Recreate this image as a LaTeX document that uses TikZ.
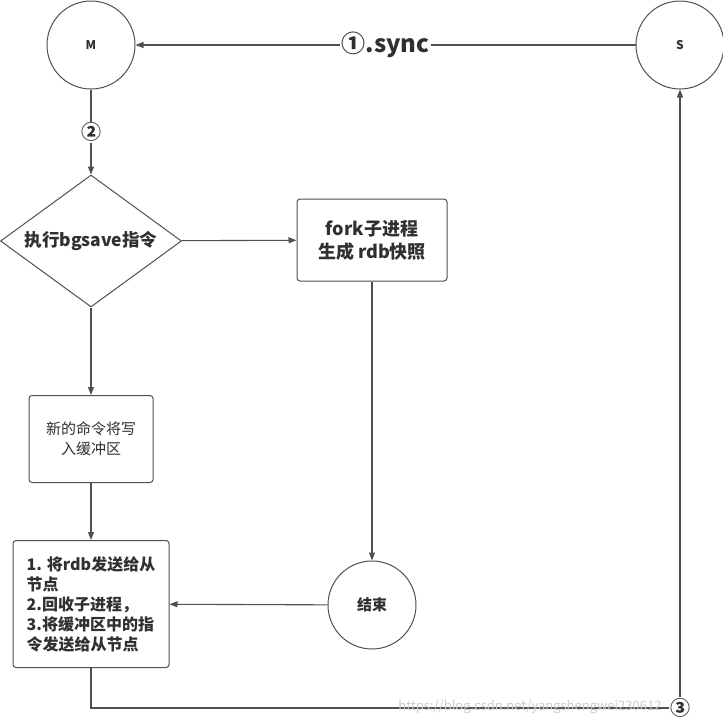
\documentclass[tikz,border=0pt]{standalone}
\usepackage{fontspec}
\setmainfont{Noto Sans CJK SC}
\usetikzlibrary{positioning,arrows.meta,shapes.geometric}
\definecolor{linegray}{HTML}{505050}
\definecolor{txtgray}{HTML}{303030}

\begin{document}
\begin{tikzpicture}[
  x=1pt,y=-1pt,
  >={Triangle[length=8pt,width=6pt]},
  conn/.style={draw=linegray,line width=1.1pt},
  state/.style={circle,draw=linegray,line width=1pt,fill=white,minimum size=88pt,inner sep=0pt,text=txtgray},
  stepbox/.style={rectangle,rounded corners=3pt,draw=linegray,line width=1pt,fill=white,text=txtgray,align=center},
  cond/.style={diamond,draw=linegray,line width=1pt,fill=white,shape aspect=1.37,inner sep=0pt,
    minimum width=181pt,minimum height=132pt,text=txtgray},
  num/.style={fill=white,inner sep=1pt,text=txtgray,font=\bfseries\fontsize{20}{20}\selectfont}
]
\useasboundingbox (0,0) rectangle (723,724);
% master and slave
\node[state,font=\bfseries\fontsize{12}{14}\selectfont] (M) at (91,45) {M};
\node[state,font=\bfseries\fontsize{12}{14}\selectfont] (S) at (680,45) {S};
% bgsave on the master
\node[cond,font=\bfseries\fontsize{17.5}{20}\selectfont] (exec) at (91,241) {执行bgsave指令};
\node[stepbox,minimum width=150pt,minimum height=82pt,font=\bfseries\fontsize{18}{23}\selectfont] (fork) at (372,240)
  {fork子进程\\生成 rdb快照};
\node[stepbox,minimum width=124pt,minimum height=87pt,font=\fontsize{15}{20}\selectfont] (buf) at (91,439)
  {新的命令将写\\入缓冲区};
\node[stepbox,align=left,minimum width=156pt,minimum height=127pt,font=\bfseries\fontsize{16}{20}\selectfont] (send) at (91,604)
  {1. 将rdb发送给从\\节点\\2.回收子进程，\\3.将缓冲区中的指\\令发送给从节点};
\node[state,font=\bfseries\fontsize{15}{18}\selectfont] (end) at (372,605) {结束};
% step 3 marker
\node[num] (n3) at (680,708) {③};
% connectors
\draw[conn,->] (S) -- node[fill=white,inner sep=2pt,text=txtgray,font=\bfseries\fontsize{24}{24}\selectfont]{①.sync} (M);
\draw[conn,->] (M) -- node[num]{②} (exec);
\draw[conn,->] (exec) -- (fork);
\draw[conn,->] (exec) -- (buf);
\draw[conn,->] (buf) -- (send);
\draw[conn,->] (fork) -- (end);
\draw[conn,->] (end) -- (send);
\draw[conn] (send) |- (n3);
\draw[conn,->] (n3) -- (S);
% watermark
\node[anchor=east,text=gray!40,font=\fontsize{13}{13}\selectfont] (mark) at (665,707) {https://blog.csdn.net/yangshengwei230612};
\end{tikzpicture}
\end{document}
